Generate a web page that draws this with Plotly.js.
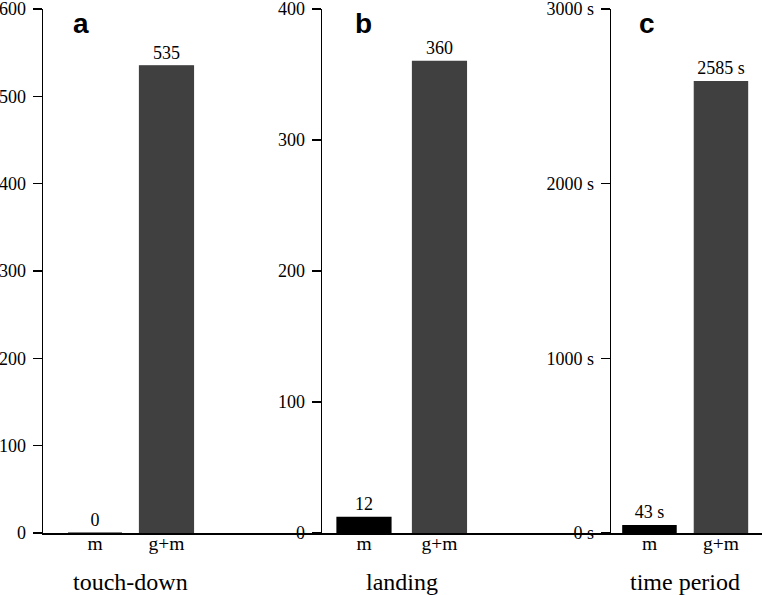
<!DOCTYPE html>
<html>
<head>
<meta charset="utf-8">
<script src="https://cdn.plot.ly/plotly-3.0.1.min.js"></script>
<style>html,body{margin:0;padding:0;background:#fff;}#chart{width:762px;height:595px;}</style>
</head>
<body>
<div id="chart"></div>
<script>
// Data
const categories = ["m", "g+m"];
const touchDown = [0, 535];
const landing = [12, 360];
const timePeriod = [43, 2585];
const panelTitles = ["touch-down", "landing", "time period"];
const panelLetters = ["a", "b", "c"];
const barColors = ["#000000", "#404040"];

const W = 762, H = 595;
const serif = "Liberation Serif";
const yBottom = (H - 533) / H, yTop = (H - 9) / H;

function px(x) { return x / W; }

const panels = [
  {vals: touchDown, suffix: "", dom: [43, 322], range: [-0.727, 3.175], width: 0.755, yr: [0, 600], dt: 100, letterX: 81},
  {vals: landing, suffix: "", dom: [322, 611], range: [-0.556, 3.272], width: 0.715, yr: [0, 400], dt: 100, letterX: 363},
  {vals: timePeriod, suffix: " s", dom: [611, 762], range: [-0.538, 1.574], width: 0.745, yr: [0, 3000], dt: 1000, letterX: 647}
];

const data = [];
const layout = {
  width: W, height: H,
  margin: {l: 0, r: 0, t: 0, b: 0},
  paper_bgcolor: "#fff", plot_bgcolor: "rgba(0,0,0,0)",
  showlegend: false,
  bargap: 0,
  annotations: [],
  font: {family: serif, color: "#000"}
};

panels.forEach((p, i) => {
  const n = i === 0 ? "" : String(i + 1);
  const tf = {family: serif, size: 18, color: "#000"};
  data.push({
    type: "bar",
    x: categories,
    y: p.vals,
    xaxis: "x" + n, yaxis: "y" + n,
    width: p.width,
    marker: {color: barColors, line: {color: barColors, width: 1.2}},
    text: p.vals.map(v => v + p.suffix),
    texttemplate: "%{text}",
    textposition: "outside",
    constraintext: "none",
    textfont: tf, outsidetextfont: tf, insidetextfont: tf,
    cliponaxis: false,
    hoverinfo: "skip"
  });
  layout["xaxis" + n] = {
    domain: [px(p.dom[0]), px(p.dom[1])],
    anchor: "y" + n,
    type: "category",
    range: p.range,
    showline: true, linecolor: "#000", linewidth: 1.5,
    ticks: "", showgrid: false, zeroline: false,
    ticklabelstandoff: -8,
    tickfont: {family: serif, size: 19.5, color: "#000"},
    fixedrange: true
  };
  layout["yaxis" + n] = {
    domain: [yBottom, yTop],
    anchor: "x" + n,
    range: p.yr,
    dtick: p.dt, tick0: 0,
    ticksuffix: p.suffix,
    showline: true, linecolor: "#000", linewidth: 1.5,
    ticks: "outside", ticklen: 9, tickwidth: 1.5, tickcolor: "#000",
    ticklabelstandoff: 3,
    ticklabeloverflow: "allow",
    showgrid: false, zeroline: false,
    tickfont: {family: serif, size: 18, color: "#000"},
    fixedrange: true
  };
  layout.annotations.push({
    text: panelTitles[i],
    xref: "x" + n, yref: "paper",
    x: 0.5, y: (H - 582) / H,
    xanchor: "center", yanchor: "middle",
    showarrow: false,
    font: {family: serif, size: 24, color: "#000"}
  });
  layout.annotations.push({
    text: "<b>" + panelLetters[i] + "</b>",
    xref: "paper", yref: "paper",
    x: px(p.letterX), y: (H - 24) / H,
    xanchor: "center", yanchor: "middle",
    showarrow: false,
    font: {family: "Liberation Sans", size: 28, color: "#000"}
  });
});

Plotly.newPlot("chart", data, layout, {displayModeBar: false, staticPlot: true});
</script>
</body>
</html>
